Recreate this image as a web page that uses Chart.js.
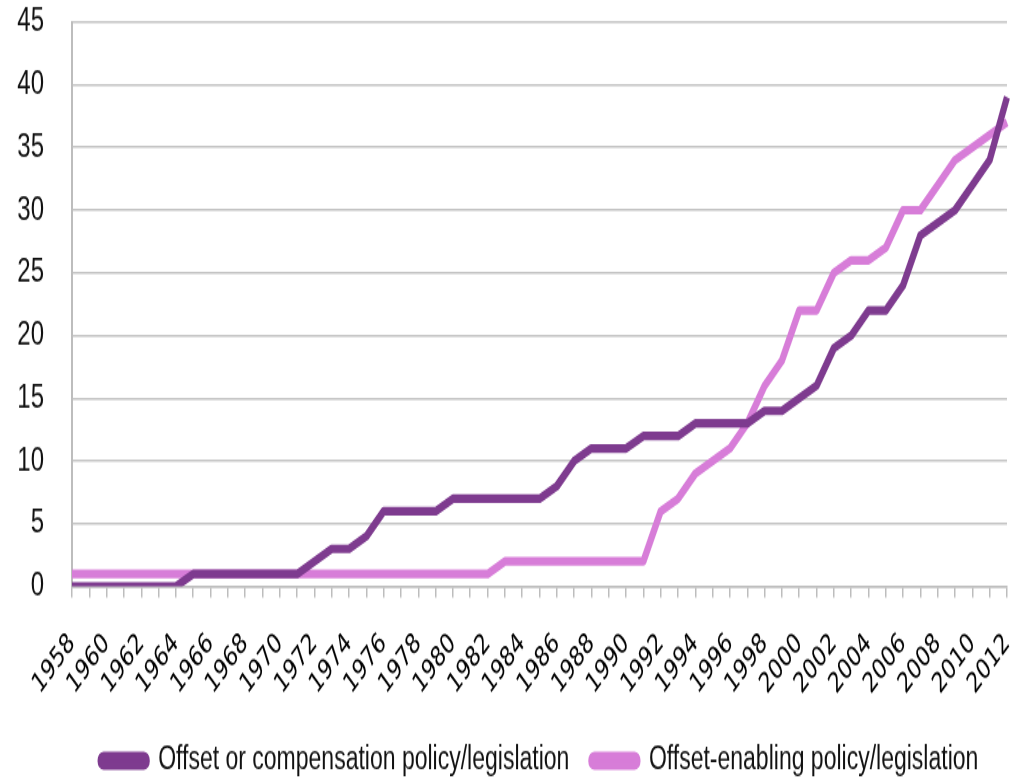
<!DOCTYPE html>
<html>
<head>
<meta charset="utf-8">
<script src="https://cdn.jsdelivr.net/npm/chart.js@4.4.1/dist/chart.umd.min.js"></script>
<style>
html{overflow:hidden;}
html,body{margin:0;padding:0;background:#fff;}
body{height:779px;}
#wrap{width:1024px;height:556px;transform:scale(1,1.401);transform-origin:0 0;}
</style>
</head>
<body>
<div id="wrap"><canvas id="c" width="1024" height="556"></canvas></div>
<script>
const years = [];
for (let y = 1958; y <= 2012; y++) years.push(String(y));

const offsetCompensation = [
  0,0,0,0,0,0,0, 1,1,1,1,1,1,1, 2,3,3,4,6,6,6,6, 7,7,7,7,7,7, 8,10,11,11,11, 12,12,12, 13,13,13,13, 14,14,15,16,19,20,22,22,24,28,29,30,32,34,39
];
const offsetEnabling = [
  1,1,1,1,1,1,1,1,1,1,1,1,1,1,1,1,1,1,1,1,1,1,1,1,1, 2,2,2,2,2,2,2,2,2, 6,7,9,10,11,13,16,18,22,22,25,26,26,27,30,30,32,34,35,36,37
];
const yTicks = [0,5,10,15,20,25,30,35,40,45];
const seriesNames = ['Offset or compensation policy/legislation','Offset-enabling policy/legislation'];

const sans = '"Liberation Sans", Arial, sans-serif';

new Chart(document.getElementById('c'), {
  type: 'line',
  data: {
    labels: years,
    datasets: [
      {label: seriesNames[0], data: offsetCompensation, borderColor:'#7E3B8F', backgroundColor:'#7E3B8F', borderWidth:6.2, pointRadius:0, tension:0, borderJoinStyle:'round'},
      {label: seriesNames[1], data: offsetEnabling, borderColor:'#D77DD8', backgroundColor:'#D77DD8', borderWidth:6.2, pointRadius:0, tension:0, borderJoinStyle:'round'}
    ]
  },
  options: {
    responsive:false,
    animation:false,
    layout:{autoPadding:false,padding:{top:15.7,right:17,left:0,bottom:-8.5}},
    plugins:{
      legend:{
        position:'bottom',
        fullSize:false,
        labels:{font:{family:sans,size:23},color:'#111',boxWidth:46,boxHeight:7,padding:22,useBorderRadius:true,borderRadius:3}
      },
      tooltip:{enabled:false}
    },
    scales:{
      x:{
        offset:false,
        grid:{drawOnChartArea:false,drawTicks:true,tickLength:8,color:'#BDBDBD',lineWidth:1.5},
        border:{color:'#BDBDBD',width:1.5},
        ticks:{
          autoSkip:false,minRotation:45,maxRotation:45,
          font:{family:'"DejaVu Sans", sans-serif',size:20},color:'#000',padding:21,
          callback:function(v,i){return i%2===0?this.getLabelForValue(v):'';}
        },
        afterFit:function(s){s.height=90.9;s.paddingLeft=0;s.paddingRight=0;s.paddingTop=0;s.paddingBottom=0;}
      },
      y:{
        min:0,max:45,
        afterBuildTicks:function(s){s.ticks=yTicks.map(v=>({value:v}));},
        grid:{color:'#C4C4C4',lineWidth:1.5,drawTicks:false},
        border:{color:'#BDBDBD',width:2},
        ticks:{font:{family:sans,size:24},color:'#111',padding:28},
        afterFit:function(s){s.width=72;s.paddingLeft=0;s.paddingRight=0;s.paddingTop=0;s.paddingBottom=0;}
      }
    }
  }
});
</script>
</body>
</html>
